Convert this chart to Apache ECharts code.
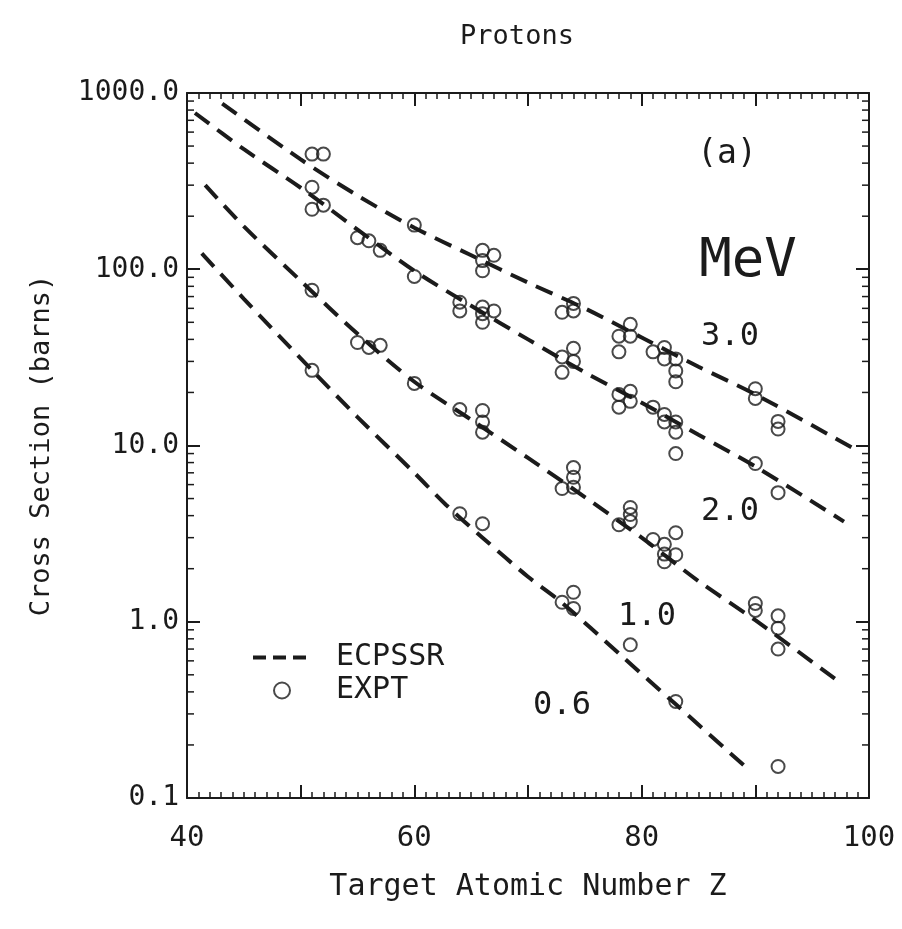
<!DOCTYPE html>
<html>
<head>
<meta charset="utf-8">
<title>Protons</title>
<script src="https://cdn.jsdelivr.net/npm/echarts@6/dist/echarts.min.js"></script>
<style>
  html, body { margin: 0; padding: 0; background: #ffffff; }
  #main { width: 902px; height: 929px; }
</style>
</head>
<body>
<div id="main"></div>
<script>
// data: [Z, cross section in barns]

// ECPSSR curves (dashed)
var ecpssr30 = [[43.1, 870], [50, 420], [55, 262], [60, 172], [65, 120], [70, 84], [75, 60], [80, 41], [85, 28], [90, 19.5], [98.8, 9.5]];
var ecpssr20 = [[40.7, 770], [45, 480], [50, 290], [55, 168], [60, 98], [65, 62], [70, 40], [75, 26], [80, 17.5], [85, 11.5], [90, 7.6], [97.8, 3.7]];
var ecpssr10 = [[41.6, 300], [45, 175], [50, 86], [55, 43], [60, 23], [65, 14], [70, 8.5], [75, 5.1], [80, 3.0], [85, 1.7], [90, 1.02], [97.1, 0.47]];
var ecpssr06 = [[41.3, 123], [45, 68], [51, 26.7], [55, 14.5], [60, 7.0], [62.8, 4.6], [66, 3.0], [70, 1.8], [73, 1.28], [78, 0.66], [83, 0.34], [89.4, 0.145]];

// experimental points (open circles)
var expt30 = [[51, 450], [52, 450], [60, 178], [66, 128], [66, 112], [66, 98], [67, 120], [73, 57], [74, 64], [74, 58],
  [78, 41.7], [78, 34], [79, 48.7], [79, 41.7], [81, 34], [82, 36], [82, 31], [83, 31], [83, 26.5], [83, 23],
  [90, 21], [90, 18.5], [92, 13.7], [92, 12.4]];
var expt20 = [[51, 292], [51, 219], [52, 231], [55, 151], [56, 145], [57, 128], [60, 91], [64, 65], [64, 58],
  [66, 61], [66, 56], [66, 50], [67, 58], [73, 31.8], [73, 26], [74, 35.6], [74, 30], [78, 19.5], [78, 16.5],
  [79, 20.3], [79, 17.8], [81, 16.5], [82, 15], [82, 13.6], [83, 13.6], [83, 11.9], [83, 9.0], [90, 7.9], [92, 5.4]];
var expt10 = [[51, 76], [55, 38.4], [56, 36], [57, 37], [60, 22.5], [64, 16], [66, 15.8], [66, 13.6], [66, 11.9],
  [73, 5.7], [74, 7.5], [74, 6.6], [74, 5.8], [78, 3.55], [79, 4.45], [79, 4.06], [79, 3.7], [81, 2.93],
  [82, 2.75], [82, 2.42], [82, 2.19], [83, 3.2], [83, 2.4], [90, 1.27], [90, 1.16], [92, 1.08], [92, 0.92], [92, 0.70]];
var expt06 = [[51, 26.7], [64, 4.1], [66, 3.6], [73, 1.29], [74, 1.47], [74, 1.19], [79, 0.74], [83, 0.353], [92, 0.151]];

// energy labels (MeV) and the labelled x ticks
var energyLabels = ['3.0', '2.0', '1.0', '0.6'];
var xLabelValues = [40, 60, 80, 100];

var ink = '#1b1b1b';
var mono = "'DejaVu Sans Mono', 'Liberation Mono', monospace";

// minor ticks for the log axis: 2..9 in each decade
var yMinor = [];
[0.1, 1, 10, 100].forEach(function (d) {
  for (var k = 2; k <= 9; k++) yMinor.push([40, +(d * k).toPrecision(3)]);
});

var myChart = echarts.init(document.getElementById('main'), null, { renderer: 'canvas' });

function xAxisOpt(pos, withLabels) {
  return {
    type: 'value',
    position: pos,
    min: 40,
    max: 100,
    interval: 10,
    axisLine: { show: true, onZero: false, lineStyle: { color: ink, width: 2 } },
    axisTick: { show: true, inside: true, length: 13, lineStyle: { color: ink, width: 2 } },
    minorTick: { show: true, splitNumber: 10, length: 6, lineStyle: { color: ink, width: 1.5 } },
    splitLine: { show: false },
    axisLabel: {
      show: withLabels,
      margin: 26,
      fontSize: 29,
      fontFamily: mono,
      color: ink,
      formatter: function (v) { return xLabelValues.indexOf(v) >= 0 ? String(v) : ''; }
    },
    name: withLabels ? 'Target Atomic Number Z' : '',
    nameLocation: 'middle',
    nameGap: 74,
    nameTextStyle: { fontSize: 30, fontFamily: mono, color: ink }
  };
}

function yAxisOpt(pos, withLabels) {
  return {
    type: 'log',
    logBase: 10,
    position: pos,
    min: 0.1,
    max: 1000,
    axisLine: { show: true, onZero: false, lineStyle: { color: ink, width: 2 } },
    axisTick: { show: true, inside: true, length: 13, lineStyle: { color: ink, width: 2 } },
    splitLine: { show: false },
    axisLabel: {
      show: withLabels,
      margin: 8,
      fontSize: 28,
      fontFamily: mono,
      color: ink,
      formatter: function (v) { return (+v.toPrecision(3)).toFixed(1); }
    },
    name: withLabels ? 'Cross Section (barns)' : '',
    nameLocation: 'middle',
    nameGap: 132,
    nameTextStyle: { fontSize: 27, fontFamily: mono, color: ink }
  };
}

function lineSeries(data) {
  return {
    name: 'ECPSSR',
    type: 'line',
    data: data,
    smooth: 0.3,
    symbol: 'none',
    lineStyle: { color: ink, width: 4, type: [18, 10] },
    itemStyle: { color: ink },
    z: 3
  };
}

function scatterSeries(data) {
  return {
    name: 'EXPT',
    type: 'scatter',
    data: data,
    symbol: 'circle',
    symbolSize: 13,
    itemStyle: { color: 'rgba(255,255,255,0)', borderColor: ink, borderWidth: 2 },
    z: 4
  };
}

function txt(s, x, y, size) {
  return {
    type: 'text',
    x: x,
    y: y,
    style: { text: s, font: size + 'px ' + mono, fill: ink, align: 'center', verticalAlign: 'middle' }
  };
}

var option = {
  backgroundColor: '#ffffff',
  animation: false,

  // Add title
  title: {
    text: 'Protons',
    left: 512,
    top: 18,
    textAlign: 'center',
    textStyle: { fontSize: 27, fontWeight: 'normal', fontFamily: mono, color: ink }
  },

  // Setup grid
  grid: { left: 187, right: 33, top: 93, bottom: 131, containLabel: false },

  // Add legend
  legend: {
    data: [
      { name: 'ECPSSR', itemStyle: { opacity: 0 }, lineStyle: { color: ink, width: 4, type: [13, 7] } },
      { name: 'EXPT' }
    ],
    orient: 'vertical',
    left: 246,
    top: 637,
    itemWidth: 58,
    itemHeight: 16,
    itemGap: 2,
    textStyle: { fontSize: 30, lineHeight: 31, fontFamily: mono, color: ink, padding: [0, 0, 0, 20] }
  },

  xAxis: [xAxisOpt('bottom', true), xAxisOpt('top', false)],
  yAxis: [yAxisOpt('left', true), yAxisOpt('right', false)],

  // text on the plot
  graphic: [
    txt('(a)', 727, 154, 33),
    txt('MeV', 748, 262, 54),
    txt(energyLabels[0], 730, 337, 32),
    txt(energyLabels[1], 730, 512, 32),
    txt(energyLabels[2], 647, 617, 32),
    txt(energyLabels[3], 562, 706, 32)
  ],

  // Add series
  series: [
    lineSeries(ecpssr30),
    lineSeries(ecpssr20),
    lineSeries(ecpssr10),
    lineSeries(ecpssr06),
    scatterSeries(expt30),
    scatterSeries(expt20),
    scatterSeries(expt10),
    scatterSeries(expt06),
    {
      // minor ticks of the log axes, left and right
      type: 'custom',
      silent: true,
      data: yMinor,
      renderItem: function (params, api) {
        var v = api.value(1);
        var pl = api.coord([40, v]);
        var pr = api.coord([100, v]);
        return {
          type: 'group',
          children: [
            { type: 'line', shape: { x1: pl[0], y1: pl[1], x2: pl[0] + 7, y2: pl[1] }, style: { stroke: ink, lineWidth: 1.5 } },
            { type: 'line', shape: { x1: pr[0] - 7, y1: pr[1], x2: pr[0], y2: pr[1] }, style: { stroke: ink, lineWidth: 1.5 } }
          ]
        };
      },
      z: 2
    }
  ]
};

myChart.setOption(option);
</script>
</body>
</html>
